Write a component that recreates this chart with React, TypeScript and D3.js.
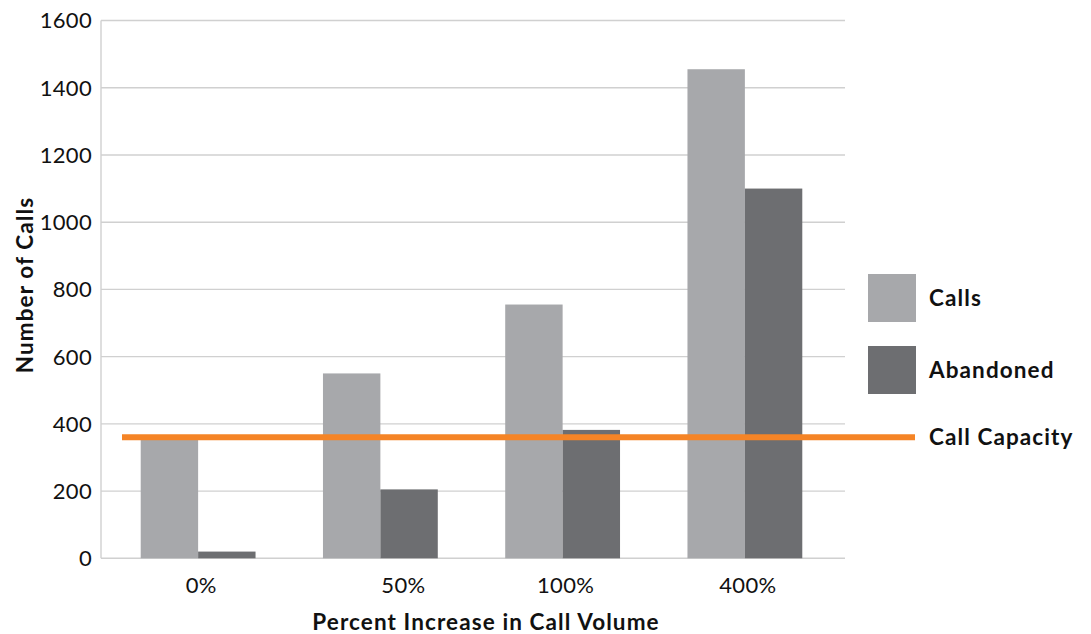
import React from 'react';
import * as d3 from 'd3';

const categories = ['0%', '50%', '100%', '400%'];
const calls = [358, 550, 755, 1455];
const abandoned = [20, 205, 382, 1100];
const callCapacity = 360;
const yTicks = [0, 200, 400, 600, 800, 1000, 1200, 1400, 1600];
const seriesNames = ['Calls', 'Abandoned'];

const W = 1091;
const H = 634;
const plotLeft = 101;
const plotRight = 845;
const plotTop = 20.5;
const plotBottom = 558.3;

const colors = ['#a7a8ab', '#6d6e71'];
const orange = '#f58426';
const font = 'Lato, "Noto Sans", sans-serif';

// the 50% label sits a little to the right in the original
const labelNudge: Record<string, number> = { '50%': 20 };

const boldText = {
  fontFamily: font,
  fontWeight: 700,
  fontSize: 22.5,
  letterSpacing: 1.1,
  fill: '#111',
};

const App: React.FC = () => {
  const y = d3.scaleLinear().domain([0, 1600]).range([plotBottom, plotTop]);
  const x0 = d3
    .scaleBand<string>()
    .domain(categories)
    .range([107, 836])
    .paddingInner(0.37)
    .paddingOuter(0.185);
  const x1 = d3.scaleBand<string>().domain(seriesNames).range([0, x0.bandwidth()]);

  const series = [calls, abandoned];

  return (
    <svg width={W} height={H} style={{ position: 'absolute', left: 0, top: 0 }}>
      <rect width={W} height={H} fill="#fff" />
      {/* grid */}
      {yTicks.map((t) => (
        <line
          key={t}
          x1={plotLeft}
          x2={plotRight}
          y1={y(t)}
          y2={y(t)}
          stroke="#d0d0d0"
          strokeWidth={1.4}
        />
      ))}
      <line x1={plotLeft} x2={plotLeft} y1={plotTop} y2={plotBottom} stroke="#d0d0d0" strokeWidth={1.4} />
      {yTicks.map((t) => (
        <text
          key={t}
          x={plotLeft - 9}
          y={y(t)}
          dy="0.36em"
          textAnchor="end"
          fontFamily={font}
          fontSize={22}
          letterSpacing={0.3}
          fill="#111"
        >
          {t}
        </text>
      ))}

      {/* bars */}
      {categories.map((c, i) => (
        <g key={c} transform={`translate(${x0(c)},0)`}>
          {seriesNames.map((s, j) => (
            <rect
              key={s}
              x={x1(s)}
              y={y(series[j][i])}
              width={x1.bandwidth()}
              height={y(0) - y(series[j][i])}
              fill={colors[j]}
            />
          ))}
        </g>
      ))}

      {/* capacity line, runs into the legend */}
      <line x1={122} x2={915} y1={y(callCapacity)} y2={y(callCapacity)} stroke={orange} strokeWidth={6} />

      {categories.map((c) => (
        <text
          key={c}
          x={(x0(c) as number) + x0.bandwidth() / 2 + (labelNudge[c] || 0) + 3}
          y={593}
          textAnchor="middle"
          fontFamily={font}
          fontSize={22}
          letterSpacing={0.3}
          fill="#111"
        >
          {c}
        </text>
      ))}

      {/* legend */}
      {seriesNames.map((s, j) => (
        <g key={s} transform={`translate(868,${274 + j * 72})`}>
          <rect width={48} height={48} fill={colors[j]} />
          <text x={61} y={24} dy="0.36em" {...boldText}>
            {s}
          </text>
        </g>
      ))}
      <text x={929} y={y(callCapacity)} dy="0.36em" {...boldText}>
        Call Capacity
      </text>

      {/* axis titles */}
      <text x={486} y={630} textAnchor="middle" {...boldText}>
        Percent Increase in Call Volume
      </text>
      <text transform={`translate(33,${285}) rotate(-90)`} textAnchor="middle" {...boldText}>
        Number of Calls
      </text>
    </svg>
  );
};

export default App;
